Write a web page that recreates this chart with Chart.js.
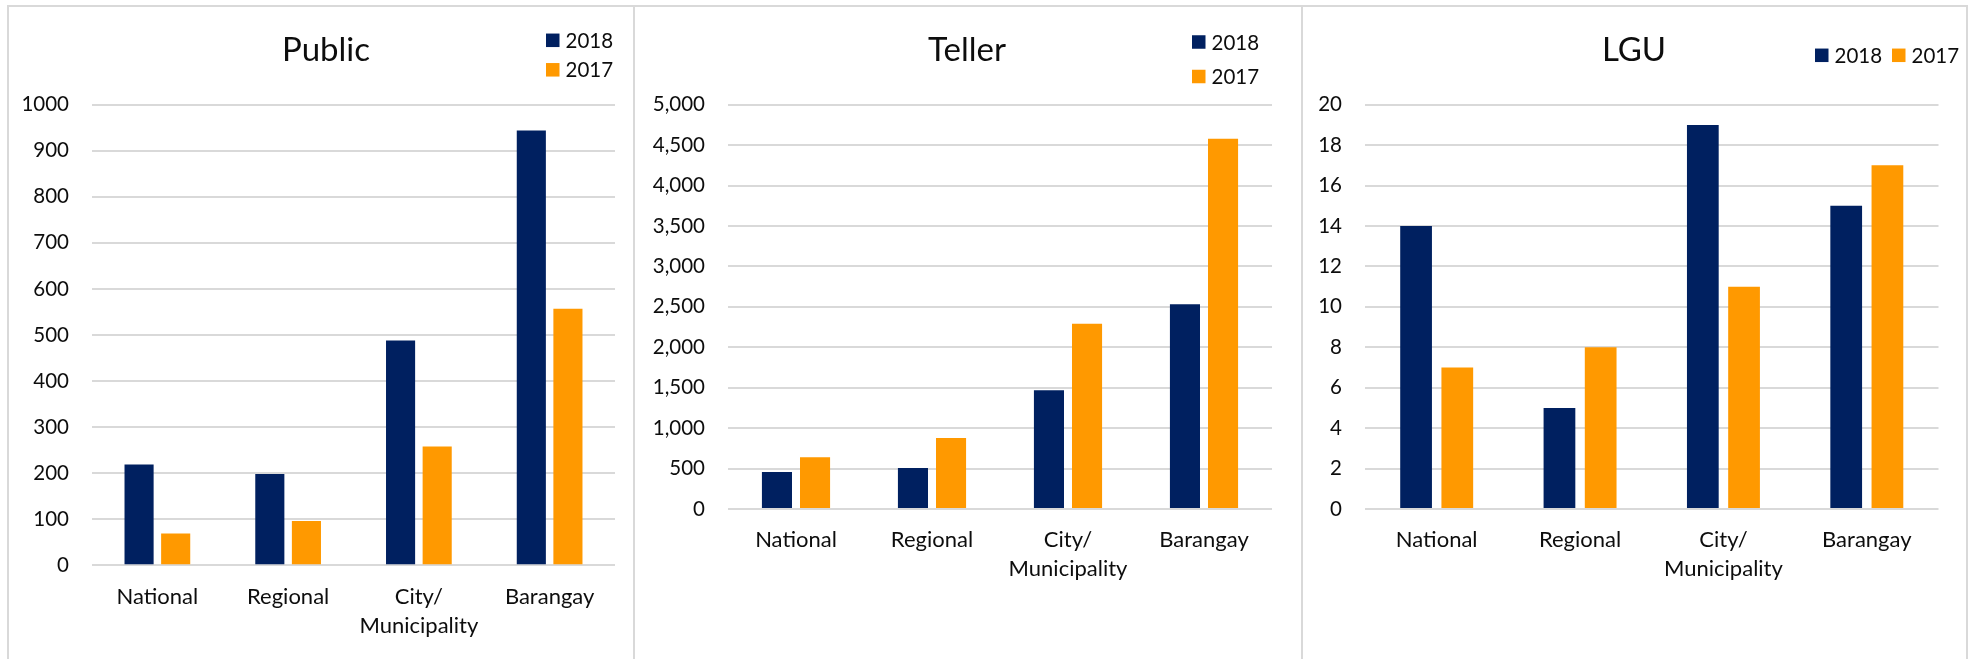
<!DOCTYPE html>
<html>
<head>
<meta charset="utf-8">
<script src="https://cdn.jsdelivr.net/npm/chart.js@4/dist/chart.umd.min.js"></script>
<style>
html,body{margin:0;padding:0;background:#fff;width:1977px;height:659px;overflow:hidden;}
.panel{position:absolute;top:5px;height:660px;border:2px solid #D9D9D9;border-bottom:none;box-sizing:border-box;}
canvas{position:absolute;top:0;}
</style>
</head>
<body>
<div class="panel" style="left:7px;width:628px;"></div>
<div class="panel" style="left:633px;width:670px;"></div>
<div class="panel" style="left:1301px;width:667px;"></div>
<canvas id="c1" width="634" height="659" style="left:9px;"></canvas>
<canvas id="c2" width="664" height="659" style="left:635px;"></canvas>
<canvas id="c3" width="664" height="659" style="left:1302px;"></canvas>
<script>
// ---- data ----
const categories = ['National', 'Regional', ['City/', 'Municipality'], 'Barangay'];
const seriesLabels = ['2018', '2017'];
const public2018 = [219, 198, 488, 944];
const public2017 = [69, 96, 258, 557];
const teller2018 = [457, 507, 1470, 2533];
const teller2017 = [639, 877, 2290, 4580];
const lgu2018 = [14, 5, 19, 15];
const lgu2017 = [7, 8, 11, 17];
const publicTicks = [0, 100, 200, 300, 400, 500, 600, 700, 800, 900, 1000];
const tellerTicks = [0, 500, 1000, 1500, 2000, 2500, 3000, 3500, 4000, 4500, 5000];
const lguTicks = [0, 2, 4, 6, 8, 10, 12, 14, 16, 18, 20];
const titles = ['Public', 'Teller', 'LGU'];

// ---- styles ----
const NAVY = '#002060';
const ORANGE = '#FF9900';
const TEXT = '#0d0d0d';
const GRID = '#D9D9D9';
const FONT = 'Lato';

const miniLegend = {
  id: 'miniLegend',
  afterDraw(chart, args, opts) {
    const ctx = chart.ctx;
    ctx.save();
    ctx.font = opts.fontSize + 'px ' + FONT;
    ctx.textBaseline = 'middle';
    ctx.textAlign = 'left';
    chart.data.datasets.forEach((ds, i) => {
      const it = opts.items[i];
      ctx.fillStyle = ds.backgroundColor;
      ctx.fillRect(it.x, it.y - opts.box / 2, opts.box, opts.box);
      ctx.fillStyle = TEXT;
      ctx.fillText(ds.label, it.x + opts.box + opts.gap, it.y + 1);
    });
    ctx.restore();
  }
};

function makeChart(id, title, d18, d17, ticks, fmt, geo) {
  const ctx = document.getElementById(id);
  return new Chart(ctx, {
    type: 'bar',
    data: {
      labels: categories,
      datasets: [
        {label: seriesLabels[0], data: d18, backgroundColor: NAVY, categoryPercentage: geo.cat, barPercentage: geo.bar},
        {label: seriesLabels[1], data: d17, backgroundColor: ORANGE, categoryPercentage: geo.cat, barPercentage: geo.bar}
      ]
    },
    plugins: [miniLegend],
    options: {
      responsive: false,
      animation: false,
      devicePixelRatio: 1,
      layout: {padding: 0},
      plugins: {
        legend: {display: false},
        tooltip: {enabled: false},
        title: {
          display: true, text: title, color: TEXT,
          font: {family: FONT, size: 33, weight: 'normal', lineHeight: 1.2},
          padding: {top: 30.6, bottom: 34.5}
        },
        miniLegend: geo.legend
      },
      scales: {
        x: {
          grid: {display: false, drawTicks: false},
          border: {display: false},
          ticks: {color: TEXT, font: {family: FONT, size: 22, lineHeight: 1.32}, padding: geo.xpad, maxRotation: 0, autoSkip: false},
          afterFit(s) { s.height = geo.xh; }
        },
        y: {
          min: ticks[0], max: ticks[ticks.length - 1],
          grid: {color: GRID, lineWidth: 2, drawTicks: false},
          border: {display: false},
          afterBuildTicks(s) { s.ticks = ticks.map(v => ({value: v})); },
          ticks: {color: TEXT, font: {family: FONT, size: 20.5}, padding: 23, callback: fmt},
          afterFit(s) { s.width = geo.yw; }
        },
        spacer: {
          type: 'linear', position: 'right', display: true,
          grid: {display: false, drawTicks: false},
          border: {display: false},
          ticks: {display: false},
          afterFit(s) { s.width = geo.rw; }
        }
      }
    }
  });
}

function draw() {
  makeChart('c1', titles[0], public2018, public2017, publicTicks, v => String(v), {
    yw: 83, rw: 28, xh: 93.7, xpad: 17, cat: 0.56, bar: 0.795,
    legend: {fontSize: 20.5, box: 13.5, gap: 6, items: [{x: 537, y: 40.3}, {x: 537, y: 69.8}]}
  });
  makeChart('c2', titles[1], teller2018, teller2017, tellerTicks, v => v.toLocaleString('en-US'), {
    yw: 93, rw: 27, xh: 150, xpad: 16, cat: 0.56, bar: 0.79,
    legend: {fontSize: 20.5, box: 13.5, gap: 6, items: [{x: 557, y: 42}, {x: 557, y: 76.5}]}
  });
  makeChart('c3', titles[2], lgu2018, lgu2017, lguTicks, v => String(v), {
    yw: 63, rw: 27.5, xh: 150, xpad: 16, cat: 0.575, bar: 0.77,
    legend: {fontSize: 20.5, box: 13.5, gap: 6, items: [{x: 513, y: 55.3}, {x: 590, y: 55.3}]}
  });
}

if (document.fonts && document.fonts.load) {
  Promise.all([document.fonts.load('20px Lato'), document.fonts.load('33px Lato')]).then(draw, draw);
} else {
  draw();
}
</script>
</body>
</html>
